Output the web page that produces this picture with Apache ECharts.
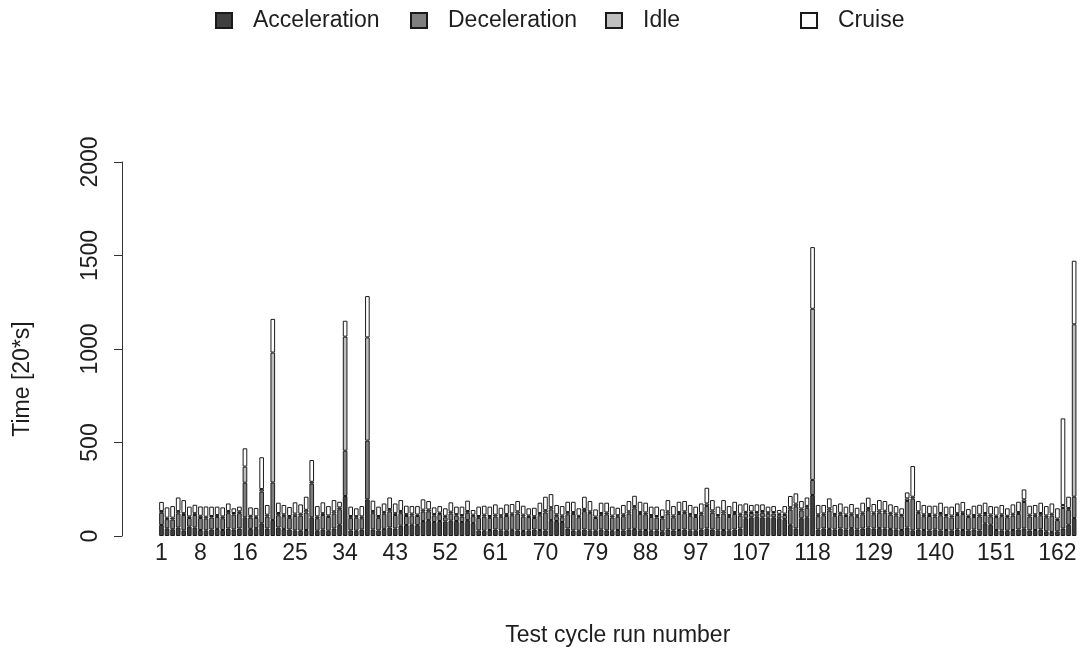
<!DOCTYPE html>
<html>
<head>
<meta charset="utf-8">
<title>Test cycle phases</title>
<script src="https://cdn.jsdelivr.net/npm/echarts@6/dist/echarts.min.js"></script>
<style>
  html, body { margin: 0; padding: 0; background: #ffffff; }
  #chart { width: 1088px; height: 660px; }
</style>
</head>
<body>
<div id="chart"></div>
<script>
// Time spent per driving phase in each test cycle run, units of 20 s
const accel = [
  59,41,36,45,30,50,45,32,30,35, 38,32,40,35,40,100,38,42,68,40,
  86,45,38,35,30,28,32,100,28,35, 28,40,60,214,30,28,35,196,35,30,
  38,45,40,55,59,60,58,80,85,75, 80,78,82,80,75,85,70,30,28,32,
  35,30,28,33,30,27,30,35,32,30, 85,80,75,40,30,28,35,30,28,35,
  30,28,32,30,35,38,30,32,28,30, 25,35,30,32,35,30,28,35,40,35,
  30,32,30,35,40,95,100,105,100,98, 100,95,90,60,40,95,100,219,35,40,
  38,35,40,35,42,35,40,45,40,42, 40,38,35,32,45,30,35,32,30,35,
  30,32,30,35,32,30,35,30,68,60, 32,30,28,32,35,40,30,32,35,25,
  22,25,40,60,96
];
const decel = [
  65,49,52,76,82,46,67,64,63,64, 64,63,82,80,82,185,60,55,170,64,
  200,66,68,62,78,81,94,180,67,77, 74,80,83,242,67,70,60,314,87,67,
  81,87,72,67,48,50,49,51,47,35, 37,22,38,29,29,39,36,67,76,65,
  69,73,79,78,90,77,72,61,79,96, 57,26,25,76,88,72,98,92,68,78,
  86,71,71,76,85,110,88,84,74,69, 69,85,70,86,87,78,74,79,120,90,
  74,88,72,83,69,24,23,16,24,21, 20,16,22,82,119,42,51,81,71,71,
  98,73,74,72,69,68,76,93,76,83, 85,76,75,73,142,170,87,74,77,69,
  81,72,69,77,85,71,67,75,45,45, 69,76,72,77,83,142,74,74,76,75,
  87,60,110,80,114
];
const idle = [
  10,8,10,12,10,9,10,12,10,8, 10,10,12,8,10,86,10,8,13,10,
  695,12,10,10,12,10,14,10,10,10, 8,12,10,610,10,8,10,552,12,10,
  10,12,10,12,10,10,8,10,10,8, 8,8,10,8,8,10,8,10,10,10,
  10,8,10,10,12,10,8,10,12,12, 12,10,10,12,10,8,12,10,8,10,
  10,10,8,10,12,12,10,10,10,8, 8,12,10,10,10,10,10,10,14,12,
  8,12,10,10,10,10,8,8,10,8, 8,8,8,12,14,10,10,915,10,10,
  12,10,10,8,10,8,10,12,10,12, 10,10,10,8,14,10,10,10,10,10,
  12,8,10,10,10,8,10,10,10,10, 8,10,8,10,10,14,10,10,12,10,
  10,8,16,10,922
];
const cruise = [
  48,55,62,73,70,52,45,50,55,50, 45,48,40,25,25,98,45,45,170,52,
  180,55,50,48,60,50,70,116,55,58, 50,60,30,85,50,42,55,221,55,50,
  45,62,52,58,45,40,45,55,45,35, 35,40,50,40,45,55,25,50,48,50,
  55,40,52,50,55,48,38,45,55,72, 70,50,50,55,55,40,65,55,38,55,
  52,48,40,50,55,55,55,52,45,50, 40,60,50,55,55,48,45,50,84,55,
  45,60,48,55,50,45,35,40,35,30, 32,20,40,60,55,40,45,330,50,45,
  53,48,50,42,50,40,52,55,45,55, 52,45,40,35,32,164,55,50,45,48,
  55,45,48,52,55,35,50,52,55,45, 48,50,40,50,55,53,48,50,55,50,
  55,55,463,60,340
];

// Run numbers along the x axis and the ones that get a label
const runs = accel.map((_, i) => String(i + 1));
const labelledRuns = [1, 8, 16, 25, 34, 43, 52, 61, 70, 79, 88, 97, 107, 118, 129, 140, 151, 162];
const yTicks = [0, 500, 1000, 1500, 2000];

const phaseNames = ['Acceleration', 'Deceleration', 'Idle', 'Cruise'];
const phaseData = [accel, decel, idle, cruise];
const phaseColors = ['#404040', '#7f7f7f', '#bfbfbf', '#ffffff'];

const FONT = '"Liberation Sans", Arial, Helvetica, sans-serif';
const TEXT = '#1e1e1e';
const labelledSet = new Set(labelledRuns);

const chart = echarts.init(document.getElementById('chart'), null, { renderer: 'canvas' });

const legendLefts = [210, 405, 600, 795];

chart.setOption({
  animation: false,
  backgroundColor: '#ffffff',
  textStyle: { fontFamily: FONT },
  legend: phaseNames.map((name, k) => ({
    data: [name],
    left: legendLefts[k],
    top: 4,
    icon: 'rect',
    itemWidth: 16,
    itemHeight: 15,
    selectedMode: false,
    textStyle: { fontFamily: FONT, fontSize: 23, color: TEXT, padding: [0, 0, 0, 16] }
  })),
  grid: { left: 158.7, right: 11.1, top: 162, bottom: 124, containLabel: false },
  xAxis: {
    type: 'category',
    data: runs,
    axisLine: { show: false },
    axisTick: { show: false },
    axisLabel: {
      interval: (idx) => labelledSet.has(idx + 1),
      margin: 6,
      fontFamily: FONT,
      fontSize: 23,
      color: TEXT
    },
    name: 'Test cycle run number',
    nameLocation: 'middle',
    nameGap: 88,
    nameTextStyle: { fontFamily: FONT, fontSize: 23, color: TEXT }
  },
  yAxis: {
    type: 'value',
    min: yTicks[0],
    max: yTicks[yTicks.length - 1],
    interval: 500,
    offset: 36.7,
    splitLine: { show: false },
    axisLine: { show: true, lineStyle: { color: '#333', width: 1 } },
    axisTick: { show: true, length: 8, lineStyle: { color: '#333', width: 1 } },
    axisLabel: {
      rotate: 90,
      margin: 20,
      formatter: (v) => String(v),
      fontFamily: FONT,
      fontSize: 23,
      color: TEXT
    },
    name: 'Time [20*s]',
    nameLocation: 'middle',
    nameGap: 88,
    nameRotate: 90,
    nameTextStyle: { fontFamily: FONT, fontSize: 23, color: TEXT, padding: [0, 60, 0, 0] }
  },
  series: phaseNames.map((name, k) => ({
    name: name,
    type: 'bar',
    stack: 'phases',
    data: phaseData[k],
    barCategoryGap: '16.7%',
    itemStyle: { color: phaseColors[k], borderColor: '#1a1a1a', borderWidth: 1 },
    emphasis: { disabled: true }
  }))
});
</script>
</body>
</html>
